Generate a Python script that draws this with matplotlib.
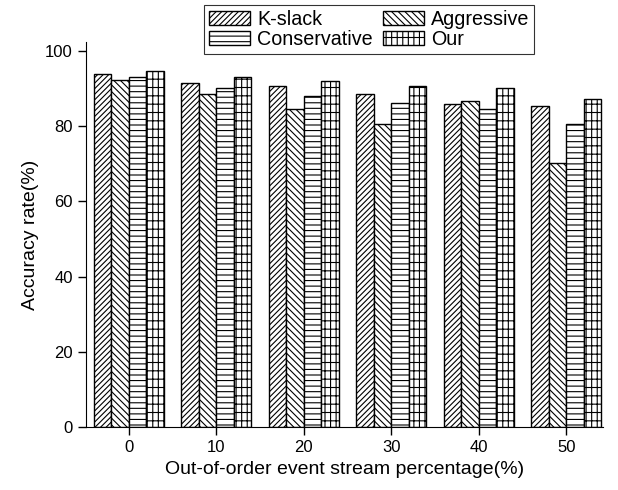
import numpy as np
import matplotlib
matplotlib.use('Agg')
import matplotlib.pyplot as plt

plt.rcParams['font.family'] = ['Liberation Sans', 'DejaVu Sans']
plt.rcParams['hatch.linewidth'] = 0.8

percentages = [0, 10, 20, 30, 40, 50]
kslack = [93.9, 91.6, 90.7, 88.7, 85.9, 85.4]
aggressive = [92.3, 88.5, 84.7, 80.5, 86.7, 70.2]
conservative = [93.2, 90.1, 88.0, 86.3, 84.5, 80.5]
our = [94.7, 93.0, 92.1, 90.8, 90.2, 87.2]

series = [('K-slack', kslack, '//////'),
          ('Aggressive', aggressive, '\\\\\\\\\\'),
          ('Conservative', conservative, '---'),
          ('Our', our, '--|||')]

fig = plt.figure(figsize=(6.18, 4.9), dpi=100)
ax = fig.add_axes([0.139, 0.129, 0.837, 0.785])

x = np.array(percentages, dtype=float)
width = 2.0
bars = []
for i, (name, vals, hatch) in enumerate(series):
    b = ax.bar(x + (i - 1.5) * width, vals, width, label=name, color='white',
               edgecolor='black', hatch=hatch, linewidth=1.0)
    bars.append(b)

ax.set_xlim(-4.9, 54.2)
ax.set_ylim(0, 102.4)
ax.set_xticks(percentages)
ax.set_yticks([0, 20, 40, 60, 80, 100])
ax.spines['top'].set_visible(False)
ax.spines['right'].set_visible(False)
ax.tick_params(direction='out', length=6, width=1, labelsize=12)
ax.set_xlabel('Out-of-order event stream percentage(%)', fontsize=14)
ax.set_ylabel('Accuracy rate(%)', fontsize=14)

# legend fills column-wise, so order gives rows: K-slack/Aggressive, Conservative/Our
order = [0, 2, 1, 3]
leg = fig.legend([bars[k] for k in order], [series[k][0] for k in order],
                 ncol=2, loc='upper center', bbox_to_anchor=(369 / 618, 485 / 490),
                 borderaxespad=0, fontsize=14.2, frameon=True, fancybox=False,
                 edgecolor='black', handlelength=2.1, handleheight=0.75,
                 columnspacing=0.5, borderpad=0.25, labelspacing=0.05,
                 handletextpad=0.35)
leg.get_frame().set_linewidth(0.8)

fig.savefig('out.png', dpi=100)
